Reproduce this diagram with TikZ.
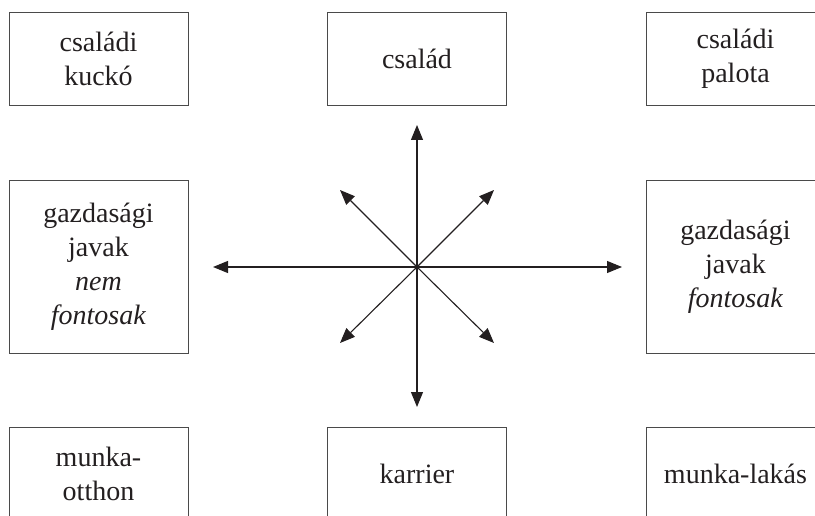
\documentclass[tikz,border=0pt]{standalone}
\usepackage{fontspec}
\setmainfont{Liberation Serif}
\usetikzlibrary{arrows.meta}
\definecolor{ink}{HTML}{231F20}
\definecolor{boxline}{HTML}{4A4A4A}
\tikzset{
  box/.style={draw=boxline, line width=0.9pt, minimum width=179pt, inner sep=0pt,
    align=center, text=ink, font=\fontsize{28}{34}\selectfont},
  sbox/.style={box, minimum height=93pt},
  tbox/.style={box, minimum height=173pt},
  arr/.style={draw=ink, line width=1.1pt, -{Triangle[length=15pt,width=12pt]}}
}
\begin{document}
\begin{tikzpicture}[x=1pt,y=-1pt]
\useasboundingbox (0,0) rectangle (815,516);
\clip (0,0) rectangle (815,516);
% boxes
\node[sbox] (kucko) at (98.5,58.5) {családi\\kuckó};
\node[sbox] (csalad) at (417,59) {család};
\node[sbox] (palota) at (735.5,58.5) {családi\\palota};
\node[tbox] (nem) at (98.5,266.5) {gazdasági\\javak\\\textit{nem}\\\textit{fontosak}};
\node[tbox] (fontos) at (735.5,266.5) {gazdasági\\javak\\\textit{fontosak}};
\node[sbox] (otthon) at (98.5,473.5) {munka-\\otthon};
\node[sbox] (karrier) at (417,473.5) {karrier};
\node[sbox] (lakas) at (735.5,473.5) {munka-lakás};
% star of arrows
\coordinate (c) at (417,267);
\coordinate (n) at (417,125);
\coordinate (s) at (417,407);
\coordinate (w) at (213,267);
\coordinate (e) at (622,267);
\coordinate (nw) at (340,190);
\coordinate (ne) at (494,190);
\coordinate (sw) at (340,343);
\coordinate (se) at (494,343);
\foreach \t in {n,s,w,e,nw,ne,sw,se} \draw[arr] (c) -- (\t);
\end{tikzpicture}
\end{document}
